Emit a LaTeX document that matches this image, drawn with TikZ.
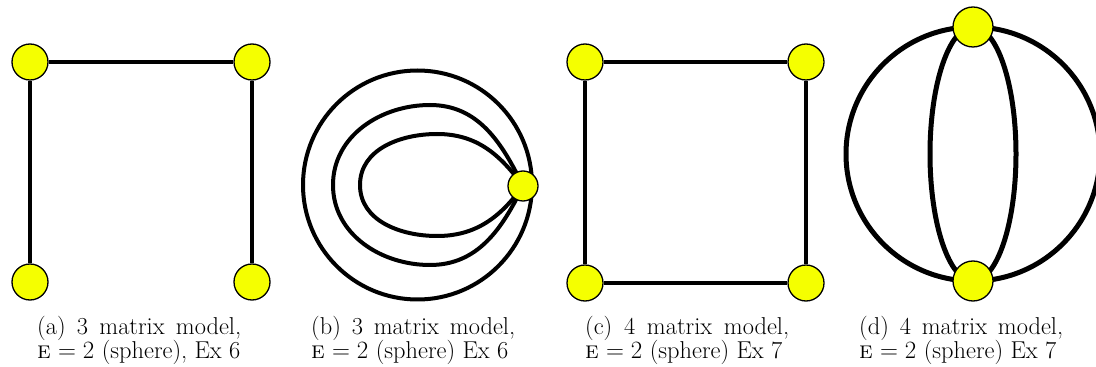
\documentclass[tikz,border=0pt]{standalone}
\usetikzlibrary{backgrounds}
\definecolor{vyellow}{RGB}{245,255,0}
\begin{document}
\begin{tikzpicture}[x=1pt,y=1pt,
  vtx/.style={circle,draw=black,fill=vyellow,line width=1.3pt,inner sep=0pt},
  vsmall/.style={vtx,minimum size=36pt},
  vtiny/.style={vtx,minimum size=30pt},
  vbig/.style={vtx,minimum size=40pt},
  edge/.style={line width=4.5pt,black},
  edgeb/.style={line width=4pt,black},
  edged/.style={line width=5pt,black},
  captext/.style={anchor=base west,inner sep=0pt,font=\fontsize{24.4}{29}\selectfont}]
\useasboundingbox (0,0) rectangle (1096,367);
% (a)
\node[vsmall] (a1) at (30,305) {};
\node[vsmall] (a2) at (252,305) {};
\node[vsmall] (a3) at (30,85) {};
\node[vsmall] (a4) at (252,85) {};
% (b)
\node[vtiny] (bv) at (523,181) {};
% (c)
\node[vsmall] (c1) at (585,305) {};
\node[vsmall] (c2) at (806,305) {};
\node[vsmall] (c3) at (585,84) {};
\node[vsmall] (c4) at (806,84) {};
% (d)
\node[vbig] (dt) at (973,340) {};
\node[vbig] (db) at (973,86) {};
\begin{scope}[on background layer]
  \draw[edge] (a3) -- (a1) -- (a2) -- (a4);
  \draw[edgeb] (417.5,182) circle[radius=114.5];
  \draw[edgeb] (bv.center) to[out=116,in=0] (430,262) to[out=180,in=90] (333,182)
     to[out=-90,in=180] (430,102) to[out=0,in=-116] (bv.center);
  \draw[edgeb] (bv.center) to[out=126,in=0] (437,233) to[out=180,in=90] (360,182)
     to[out=-90,in=180] (437,131) to[out=0,in=-126] (bv.center);
  \draw[edge] (c1) -- (c2);
  \draw[edge] (c2) -- (c4);
  \draw[edge] (c4) -- (c3);
  \draw[edge] (c3) -- (c1);
  \draw[edged] (dt.center) arc[start angle=90,end angle=270,radius=127];
  \draw[edged] (dt.center) arc[start angle=90,end angle=-90,radius=127];
  \draw[edged] (dt.center) arc[start angle=90,end angle=270,x radius=43,y radius=127];
  \draw[edged] (dt.center) arc[start angle=90,end angle=-90,x radius=43,y radius=127];
\end{scope}
% captions
\node[captext] (ca1) at (37,32) {\makebox[204pt][s]{(a) 3 matrix model,}};
\node[captext] (ca2) at (37,8) {\textsc{e} $= 2$ (sphere), Ex 6};
\node[captext] (cb1) at (311,32) {\makebox[204pt][s]{(b) 3 matrix model,}};
\node[captext] (cb2) at (311,8) {\textsc{e} $= 2$ (sphere) Ex 6};
\node[captext] (cc1) at (585,32) {\makebox[204pt][s]{(c) 4 matrix model,}};
\node[captext] (cc2) at (585,8) {\textsc{e} $= 2$ (sphere) Ex 7};
\node[captext] (cd1) at (859,32) {\makebox[204pt][s]{(d) 4 matrix model,}};
\node[captext] (cd2) at (859,8) {\textsc{e} $= 2$ (sphere) Ex 7};
\end{tikzpicture}
\end{document}
